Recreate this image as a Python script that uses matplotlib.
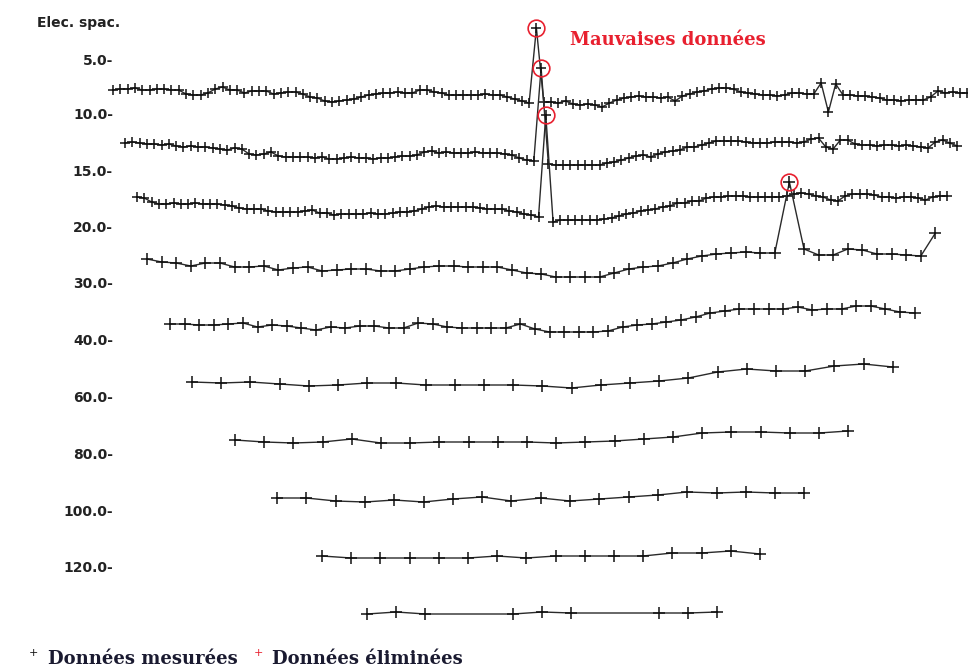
import numpy as np
import matplotlib.pyplot as plt

# electrode spacing labels (one per profile row)
spacings = ['5.0', '10.0', '15.0', '20.0', '30.0', '40.0', '60.0', '80.0', '100.0', '120.0']

# apparent readings per row, relative to the row level (positive = up)
row1 = [0, 1, 1, 2, 0, 0, 1, 1, 0, 0, -4, -5, -5, -3, 1, 3, 0, 0, -3, -1,
        -1, -1, -4, -3, -2, -2, -4, -7, -8, -11, -12, -11, -10, -9, -7, -5, -4, -3, -3, -2,
        -3, -3, 0, 0, -2, -3, -5, -5, -5, -5, -5, -4, -5, -5, -7, -9, -11, -13, 62, -12,
        -12, -13, -11, -14, -15, -14, -15, -17, -13, -10, -8, -7, -6, -7, -7, -8, -7, -11, -6, -4,
        -2, -1, 1, 2, 2, 1, -2, -3, -4, -5, -5, -6, -5, -3, -3, -4, -4, 7, -22, 6,
        -5, -5, -6, -6, -7, -8, -10, -10, -11, -10, -10, -10, -7, -1, -3, -2, -3, -3]
row2 = [2, 3, 2, 1, 1, 0, 1, -1, -2, -1, -2, -2, -3, -4, -5, -3, -4, -9, -10, -9,
        -7, -11, -12, -12, -12, -12, -13, -12, -14, -14, -13, -12, -13, -13, -14, -13, -13, -12, -11, -11,
        -10, -7, -6, -8, -7, -8, -8, -8, -7, -8, -8, -8, -9, -10, -13, -15, -16, 77, -19, -20,
        -20, -20, -20, -20, -20, -20, -18, -17, -15, -13, -11, -10, -12, -9, -7, -6, -5, -2, -2, 0,
        2, 4, 4, 4, 4, 3, 2, 2, 2, 3, 3, 3, 2, 3, 6, 7, -2, -4, 5, 5,
        1, 0, 0, -1, 0, 0, -1, 0, -1, -2, -3, 3, 5, 2, -1]
row3 = [8, 7, 3, 1, 1, 2, 1, 1, 2, 1, 1, 1, 0, -1, -3, -4, -4, -4, -6, -7,
        -7, -7, -7, -6, -5, -8, -8, -10, -9, -9, -9, -9, -8, -9, -9, -8, -7, -7, -6, -4,
        -2, -1, -2, -2, -2, -2, -2, -3, -4, -4, -4, -6, -7, -9, -10, -12, 90, -17, -15, -15,
        -15, -15, -15, -15, -14, -13, -11, -9, -8, -6, -5, -4, -2, -1, 2, 2, 4, 4, 7, 8,
        8, 9, 9, 9, 8, 8, 8, 8, 8, 9, 11, 12, 11, 9, 8, 5, 4, 9, 11, 11,
        11, 10, 8, 8, 7, 8, 8, 7, 5, 8, 9, 9]
row4 = [6, 3, 2, -1, 2, 2, -2, -2, -1, -5, -3, -2, -6, -5, -4, -4, -6, -6, -4, -2,
        -1, -1, -2, -2, -2, -5, -8, -9, -12, -12, -12, -12, -8, -4, -2, -1, 2, 6, 9, 11,
        12, 13, 12, 12, 83, 16, 10, 10, 16, 15, 11, 11, 10, 9, 32]
row5 = [1, 1, 0, 0, 1, 2, -2, 0, -1, -3, -5, -2, -3, -1, -1, -3, -3, 2, 1, -2,
        -3, -3, -3, -3, 1, -4, -7, -7, -7, -7, -6, -2, 0, 1, 3, 5, 8, 12, 14, 16,
        16, 16, 16, 18, 15, 16, 16, 19, 19, 16, 13, 12]
row6 = [3, 2, 3, 1, -1, 0, 2, 2, 0, 0, 0, 0, -1, -3, 0, 2, 4, 7, 13, 16, 14, 14, 19, 21, 18]
row7 = [0, -2, -3, -2, 1, -3, -3, -2, -2, -2, -2, -3, -2, -1, 1, 3, 7, 8, 8, 7, 7, 9]
row8 = [2, 2, -1, -2, 0, -2, 1, 3, -1, 2, -1, 1, 3, 5, 8, 7, 8, 7, 7]
row9 = [0, -2, -2, -2, -2, -2, 0, -2, 0, 0, 0, 0, 3, 3, 5, 2]
row10 = [-1, 1, -1, None, None, -1, 1, 0, None, None, 0, 0, 1]
rows = [row1, row2, row3, row4, row5, row6, row7, row8, row9, row10]

# index of the eliminated (bad) point in each row, None if none
bad = [58, 57, 56, 44, None, None, None, None, None, None]

# layout (pixels)
row_level = [90, 145, 205, 265, 325, 385, 440, 500, 556, 613]
row_x0 = [113, 125, 137, 147, 170, 192, 235, 277, 322, 367]
row_dx = [7.3, 7.3, 7.3, 14.6, 14.6, 29.2, 29.2, 29.3, 29.2, 29.2]
label_y = [61, 115, 172, 228, 284, 341, 398, 455, 512, 568]

fig = plt.figure(figsize=(9.68, 6.69), dpi=100)
ax = fig.add_axes([0, 0, 1, 1])
ax.set_xlim(0, 968)
ax.set_ylim(669, 0)
ax.axis('off')

for i, r in enumerate(rows):
    v = np.array([np.nan if a is None else a for a in r], dtype=float)
    x = row_x0[i] + row_dx[i] * np.arange(len(v))
    y = row_level[i] - v
    ok = ~np.isnan(v)
    ms = 6.5 if i < 3 else 8
    ax.plot(x[ok], y[ok], color='#2a2a2a', lw=1.0, marker='+', ms=ms, mew=1.1,
            mec='#111111')
    if bad[i] is not None:
        k = bad[i]
        ax.plot(x[k], y[k], marker='o', ms=12, mfc='none', mec='#e8202f', mew=1.2)

for lab, yy in zip(spacings, label_y):
    ax.text(113, yy, lab + '-', ha='right', va='center', fontsize=10,
            fontweight='bold', color='#222222', family='DejaVu Sans')

ax.text(37, 23, 'Elec. spac.', ha='left', va='center', fontsize=10,
        fontweight='bold', color='#222222', family='DejaVu Sans')

ax.text(570, 40, 'Mauvaises données', ha='left', va='center', fontsize=13,
        fontweight='bold', color='#e8202f', family='DejaVu Serif')

# legend
ax.text(33, 653, '+', ha='center', va='center', fontsize=8, color='#111111')
ax.text(48, 659, 'Données mesurées', ha='left', va='center', fontsize=13,
        fontweight='bold', color='#1a1a30', family='DejaVu Serif')
ax.text(258, 653, '+', ha='center', va='center', fontsize=8, color='#e8202f')
ax.text(272, 659, 'Données éliminées', ha='left', va='center', fontsize=13,
        fontweight='bold', color='#1a1a30', family='DejaVu Serif')

fig.savefig('out.png', dpi=100)
